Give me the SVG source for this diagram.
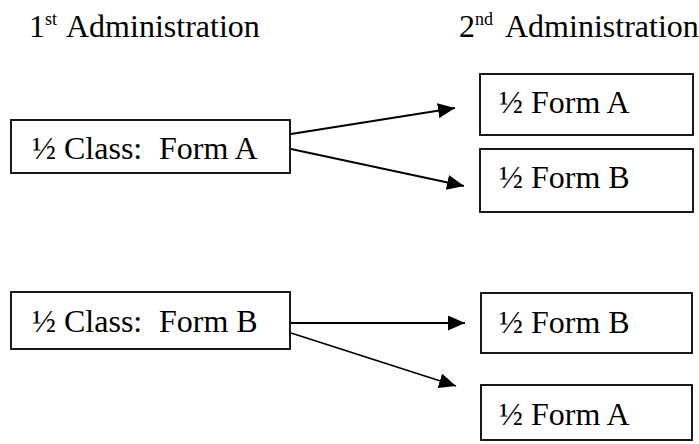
<svg xmlns="http://www.w3.org/2000/svg" width="699" height="444" viewBox="0 0 699 444">
<style>
.box{fill:#fff;stroke:#000;stroke-width:1.8}
.conn{stroke:#000;stroke-width:1.8;fill:none}
</style>
<defs>
<marker id="ah" viewBox="0 0 17 15" refX="17" refY="7.5" markerWidth="17" markerHeight="15" markerUnits="userSpaceOnUse" orient="auto">
<path d="M0,0 L17,7.5 L0,15 z" fill="#000"/>
</marker>
</defs>
<g font-family="'Liberation Serif', 'Times New Roman', 'DejaVu Serif', serif" font-size="32" fill="#000">
<g id="header1"><text x="29" y="37">1<tspan font-size="18" y="25">st</tspan><tspan x="66" y="37">Administration</tspan></text></g>
<g id="header2"><text x="459" y="37">2<tspan font-size="18" y="25">nd</tspan><tspan x="505" y="37">Administration</tspan></text></g>
<g id="classA"><rect class="box" x="11" y="120" width="279" height="53"/><text x="32" y="159">½ Class:<tspan x="159">Form A</tspan></text></g>
<g id="formA1"><rect class="box" x="480" y="74" width="213" height="61"/><text x="499" y="113">½ Form A</text></g>
<g id="formB1"><rect class="box" x="480" y="149" width="213" height="63"/><text x="499" y="188">½ Form B</text></g>
<g id="classB"><rect class="box" x="11" y="292" width="279" height="57"/><text x="32" y="332">½ Class:<tspan x="159">Form B</tspan></text></g>
<g id="formB2"><rect class="box" x="481" y="293" width="211" height="60"/><text x="499" y="333">½ Form B</text></g>
<g id="formA2"><rect class="box" x="481" y="385" width="211" height="55"/><text x="499" y="425">½ Form A</text></g>
</g>
<g id="connectors">
<line class="conn" x1="291" y1="134" x2="455" y2="108" marker-end="url(#ah)"/>
<line class="conn" x1="291" y1="149" x2="464" y2="186" marker-end="url(#ah)"/>
<line class="conn" x1="291" y1="323" x2="465" y2="323" marker-end="url(#ah)"/>
<line class="conn" x1="291" y1="333" x2="456" y2="386" marker-end="url(#ah)"/>
</g>
</svg>
